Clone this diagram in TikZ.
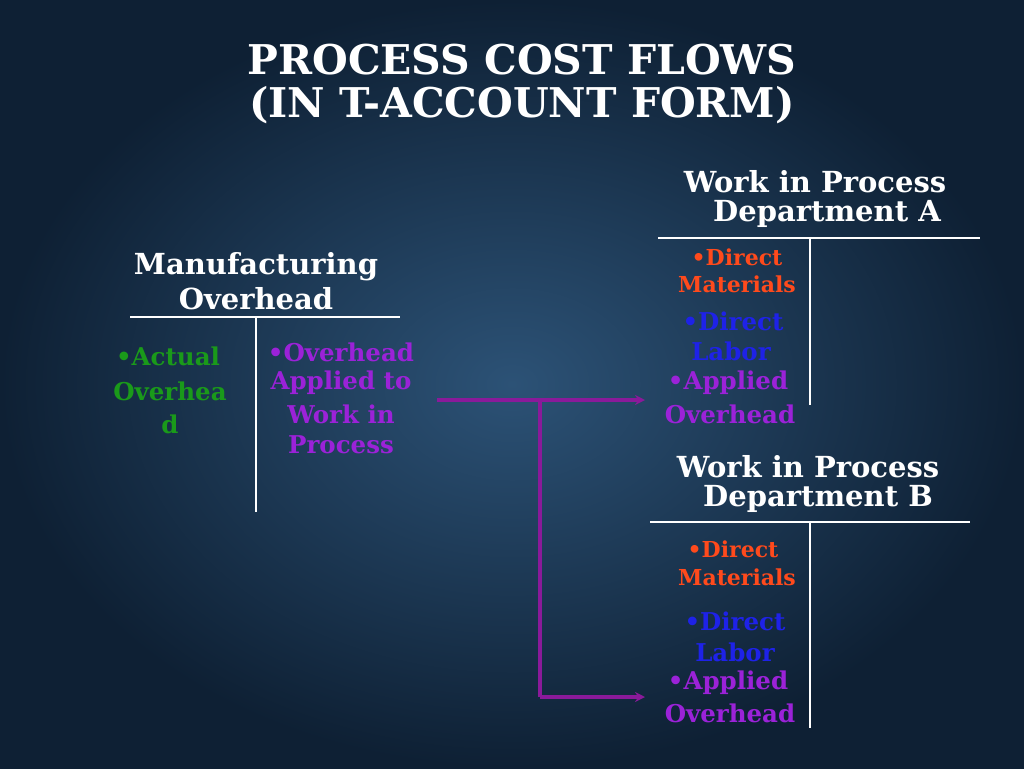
\documentclass[tikz,border=0pt]{standalone}
\usepackage{fontspec}
\setmainfont{DejaVu Serif}
\usetikzlibrary{arrows.meta}
\definecolor{dmcol}{HTML}{FF4A1C}
\definecolor{dlcol}{HTML}{1E22E8}
\definecolor{aocol}{HTML}{9B22D8}
\definecolor{accol}{HTML}{1A9A1A}
\definecolor{arrcol}{HTML}{8A1A9A}
\tikzset{
 ttl/.style={text=white,font=\fontsize{41}{43}\selectfont\bfseries},
 hdr/.style={text=white,font=\fontsize{29}{31}\selectfont\bfseries},
 sm/.style={font=\fontsize{22}{24}\selectfont\bfseries},
 md/.style={font=\fontsize{24.5}{26}\selectfont\bfseries},
 tline/.style={white,line width=2pt},
 flow/.style={arrcol,line width=4pt,-{Stealth[length=10pt,width=10pt]}},
 flowp/.style={arrcol,line width=4pt}
}
\begin{document}
\begin{tikzpicture}[x=1pt,y=-1pt]
\shade[inner color={rgb,255:red,44;green,82;blue,118},outer color={rgb,255:red,14;green,32;blue,52}] (0,0) rectangle (1024,768);
\useasboundingbox (0,0) rectangle (1024,768);
\node[ttl] (t1) at (522,60) {PROCESS COST FLOWS};
\node[ttl] (t2) at (522,105) {(IN T-ACCOUNT FORM)};
% Dept A
\node[hdr] (ha1) at (815,182) {Work in Process};
\node[hdr] (ha2) at (827,214) {Department A};
\coordinate (al) at (658,238); \coordinate (ar) at (980,238);
\coordinate (at) at (810,238); \coordinate (ab) at (810,405);
\draw[tline] (al) -- (ar); \draw[tline] (at) -- (ab);
\node[sm,text=dmcol] (a1) at (737,257) {•Direct};
\node[sm,text=dmcol] (a2) at (737,284) {Materials};
\node[md,text=dlcol] (a3) at (733,321) {•Direct};
\node[md,text=dlcol] (a4) at (731,351) {Labor};
\node[md,text=aocol] (a5) at (728,383) {•Applied};
\node[md,text=aocol] (a6) at (730,414) {Overhead};
% MOH
\node[hdr] (hm1) at (256,267) {Manufacturing};
\node[hdr] (hm2) at (256,299) {Overhead};
\coordinate (ml) at (130,317); \coordinate (mr) at (400,317);
\coordinate (mt) at (256,317); \coordinate (mb) at (256,512);
\draw[tline] (ml) -- (mr); \draw[tline] (mt) -- (mb);
\node[md,text=accol] (m1) at (168,356) {•Actual};
\node[md,text=accol] (m2) at (170,391) {Overhea};
\node[md,text=accol] (m3) at (170,424) {d};
\node[md,text=aocol] (m4) at (341,352) {•Overhead};
\node[md,text=aocol] (m5) at (341,383) {Applied to};
\node[md,text=aocol] (m6) at (341,414) {Work in};
\node[md,text=aocol] (m7) at (341,445) {Process};
% Dept B
\node[hdr] (hb1) at (808,467) {Work in Process};
\node[hdr] (hb2) at (818,499) {Department B};
\coordinate (bl) at (650,522); \coordinate (br) at (970,522);
\coordinate (bt) at (810,522); \coordinate (bb) at (810,728);
\draw[tline] (bl) -- (br); \draw[tline] (bt) -- (bb);
\node[sm,text=dmcol] (b1) at (733,549) {•Direct};
\node[sm,text=dmcol] (b2) at (737,577) {Materials};
\node[md,text=dlcol] (b3) at (735,621) {•Direct};
\node[md,text=dlcol] (b4) at (735,652) {Labor};
\node[md,text=aocol] (b5) at (728,683) {•Applied};
\node[md,text=aocol] (b6) at (730,713) {Overhead};
% arrows
\coordinate (s) at (437,400); \coordinate (j) at (540,400);
\coordinate (ea) at (645,400); \coordinate (jb) at (540,697); \coordinate (eb) at (645,697);
\draw[flow] (s) -- (ea);
\draw[flowp] (j) -- (jb);
\draw[flow] (jb) -- (eb);
\end{tikzpicture}
\end{document}
